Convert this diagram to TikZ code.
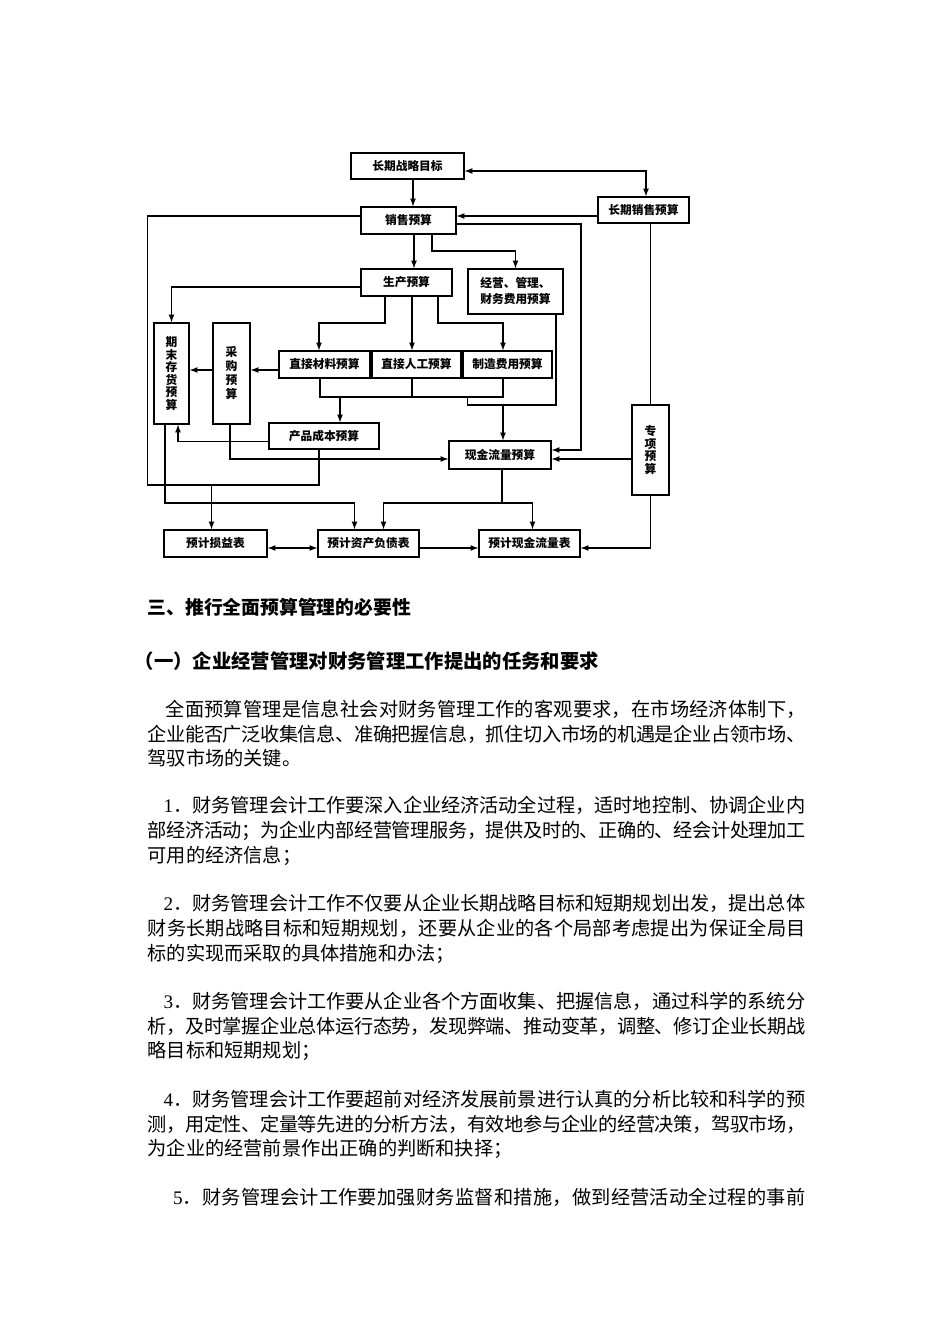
\documentclass[tikz,border=0pt]{standalone}
\usepackage{fontspec}
\setmainfont{Liberation Serif}
\newfontfamily\cjk{Noto Sans CJK SC}
\usetikzlibrary{calc}

\def\flE{}
\def\flA#1{#1\flB}
\def\flB#1{\ifx\flE#1\else\hskip 0pt plus 1fil minus 1fil\relax#1\expandafter\flB\fi}
\newcommand\fillline[2]{\makebox[#1][s]{\flA#2\flE}}

\tikzset{
  box/.style={draw, line width=1.1pt, inner sep=0pt, align=center,
    font=\cjk\bfseries\fontsize{8.8}{9.4}\selectfont},
  sz/.style 2 args={minimum width=#1*0.75pt, minimum height=#2*0.75pt},
  body/.style={inner sep=0pt, anchor=base west, font=\cjk\fontsize{14.4}{17}\selectfont},
  head/.style={body, font=\cjk\bfseries\fontsize{14.1}{17}\selectfont},
}

\begin{document}
\begin{tikzpicture}[>=latex, x=0.75pt, y=-0.75pt, line width=1pt]
\path[use as bounding box, fill=white] (0,0) rectangle (950,1344);

\node[box, sz={113}{26}] (goal) at (407.5,166) {长期战略目标};
\node[box, sz={95}{27}] (sales) at (408.5,220.5) {销售预算};
\node[box, sz={91}{26}] (ltsales) at (643.5,210) {长期销售预算};
\node[box, sz={91}{27}] (prod) at (406.5,282.5) {生产预算};
\node[box, sz={95}{45}, font=\cjk\bfseries\fontsize{8.8}{12}\selectfont] (opex) at (515.5,291.5) {经营、管理、\\财务费用预算};
\node[box, sz={35}{101}] (endinv) at (171.5,373.5) {期\\末\\存\\货\\预\\算};
\node[box, sz={37}{101}, font=\cjk\bfseries\fontsize{8.8}{10.5}\selectfont] (purch) at (231.5,373.5) {采\\购\\预\\算};
\node[box, sz={91}{27}] (dm) at (324.5,364.5) {直接材料预算};
\node[box, sz={89}{27}] (dl) at (416.5,364.5) {直接人工预算};
\node[box, sz={89}{27}] (moh) at (507.5,364.5) {制造费用预算};
\node[box, sz={110}{26}] (pcost) at (324,436) {产品成本预算};
\node[box, sz={102}{28}] (cash) at (500,455) {现金流量预算};
\node[box, sz={37}{90}] (special) at (650.5,450) {专\\项\\预\\算};
\node[box, sz={103}{27}] (income) at (215.5,543.5) {预计损益表};
\node[box, sz={101}{27}] (balance) at (368.5,543.5) {预计资产负债表};
\node[box, sz={101}{27}] (cfs) at (529.5,543.5) {预计现金流量表};

\coordinate (lb) at (147.5,485);
\coordinate (sr) at (581,450);
\coordinate (so) at (432,251);
\coordinate (pd) at (385,323);
\coordinate (pm) at (438,323);
\coordinate (mid) at (0,370);
\coordinate (jb) at (0,397);
\coordinate (jc) at (467.5,405);
\coordinate (ymid) at (0,459);
\coordinate (yb) at (0,503);
\coordinate (yr) at (0,548);
\coordinate (inc) at ($(income.north)+(-4,0)$);
\coordinate (dmb) at ($(dm.south)+(-4.5,0)$);
\coordinate (dlb) at ($(dl.south)+(-4.5,0)$);
\coordinate (mohb) at ($(moh.south)+(-4.5,0)$);
\coordinate (pcn) at ($(pcost.north)+(16,0)$);
\coordinate (ei) at ($(endinv.south)+(6.5,0)$);
\coordinate (ebx) at ($(endinv.south)+(-6.5,0)$);
\coordinate (pb) at ($(purch.south)+(-1.5,0)$);
\coordinate (bl) at ($(balance.north)+(-14,0)$);
\coordinate (br) at ($(balance.north)+(15,0)$);
\coordinate (cfn) at ($(cfs.north)+(3,0)$);
\coordinate (cb) at ($(cash.south)+(2,0)$);
\coordinate (cfe) at (cfs.east |- yr);

\draw[->] ($(goal.south)+(5.5,0)$) -- ($(sales.north)+(4.5,0)$);
\draw[<->] ($(goal.east)+(0,5)$) -| ($(ltsales.north)+(2.5,0)$);
\draw[->] ($(ltsales.west)+(0,6)$) -- ($(sales.east)+(0,-4.5)$);
\draw ($(sales.west)+(0,-4.5)$) -| (lb) -| ($(pcost.south)+(-5,0)$);
\draw[->] (inc |- lb) -- (inc);
\draw[->] ($(sales.east)+(0,3.5)$) -| (sr) -- (sr -| cash.east);
\draw[->] ($(sales.south)+(5.5,0)$) -- ($(prod.north)+(7.5,0)$);
\draw[->] (so |- sales.south) -- (so) -| (opex.north);
\draw[->] ($(prod.west)+(0,4.5)$) -| (endinv.north);
\draw[->] (pd |- prod.south) -- (pd) -| ($(dm.north)+(-5.5,0)$);
\draw[->] ($(prod.south)+(5.5,0)$) -- ($(dl.north)+(-4.5,0)$);
\draw[->] (pm |- prod.south) -- (pm) -| ($(moh.north)+(-4.5,0)$);
\draw[->] (dm.west |- mid) -- (purch.east |- mid);
\draw[->] (purch.west |- mid) -- (endinv.east |- mid);
\draw (dmb) |- (jb -| mohb) -- (mohb);
\draw (dlb) -- (dlb |- jb);
\draw[->] (pcn |- jb) -- (pcn);
\draw (jc |- jb) -- (jc) -| ($(opex.south)+(40.5,0)$);
\draw[->] (mohb |- jc) -- (mohb |- cash.north);
\draw[->] ($(pcost.west)+(0,5.5)$) -| (ei);
\draw[->] (pb) |- (cash.west |- ymid);
\draw[->] (special.west |- ymid) -- (cash.east |- ymid);
\draw ($(ltsales.south)+(7,0)$) -- (special.north);
\draw[->] (ebx) |- (bl |- yb) -- (bl);
\draw (cb) -- (cb |- yb);
\draw[<->] (br) |- (cfn |- yb) -- (cfn);
\draw[<->] (income.east |- yr) -- (balance.west |- yr);
\draw[->] (balance.east |- yr) -- (cfs.west |- yr);
\draw[->] (special.south) |- (cfe);

\node[head] (h1) at (147,614) {三、推行全面预算管理的必要性};
\node[head, font=\cjk\bfseries\fontsize{14.5}{17}\selectfont] (h2) at (134,668) {（一）企业经营管理对财务管理工作提出的任务和要求};
\node[body] (p0a) at (165,716) {\fillline{480pt}{全面预算管理是信息社会对财务管理工作的客观要求，在市场经济体制下，}};
\node[body] (p0b) at (147,741) {\fillline{493.5pt}{企业能否广泛收集信息、准确把握信息，抓住切入市场的机遇是企业占领市场、}};
\node[body] (p0c) at (147,765) {驾驭市场的关键。};
\node[body] (p1a) at (163,812) {{\rmfamily 1}\fillline{474pt}{．财务管理会计工作要深入企业经济活动全过程，适时地控制、协调企业内}};
\node[body] (p1b) at (147,837) {\fillline{493.5pt}{部经济活动；为企业内部经营管理服务，提供及时的、正确的、经会计处理加工}};
\node[body] (p1c) at (147,862) {可用的经济信息；};
\node[body] (p2a) at (163,910) {{\rmfamily 2}\fillline{474pt}{．财务管理会计工作不仅要从企业长期战略目标和短期规划出发，提出总体}};
\node[body] (p2b) at (147,935) {\fillline{493.5pt}{财务长期战略目标和短期规划，还要从企业的各个局部考虑提出为保证全局目}};
\node[body] (p2c) at (147,960) {标的实现而采取的具体措施和办法；};
\node[body] (p3a) at (163,1008) {{\rmfamily 3}\fillline{474pt}{．财务管理会计工作要从企业各个方面收集、把握信息，通过科学的系统分}};
\node[body] (p3b) at (147,1033) {\fillline{493.5pt}{析，及时掌握企业总体运行态势，发现弊端、推动变革，调整、修订企业长期战}};
\node[body] (p3c) at (147,1057) {略目标和短期规划；};
\node[body] (p4a) at (163,1106) {{\rmfamily 4}\fillline{474pt}{．财务管理会计工作要超前对经济发展前景进行认真的分析比较和科学的预}};
\node[body] (p4b) at (147,1131) {\fillline{493.5pt}{测，用定性、定量等先进的分析方法，有效地参与企业的经营决策，驾驭市场，}};
\node[body] (p4c) at (147,1155) {为企业的经营前景作出正确的判断和抉择；};
\node[body] (p5a) at (172.5,1204) {{\rmfamily 5}\fillline{467pt}{．财务管理会计工作要加强财务监督和措施，做到经营活动全过程的事前}};
\end{tikzpicture}
\end{document}
